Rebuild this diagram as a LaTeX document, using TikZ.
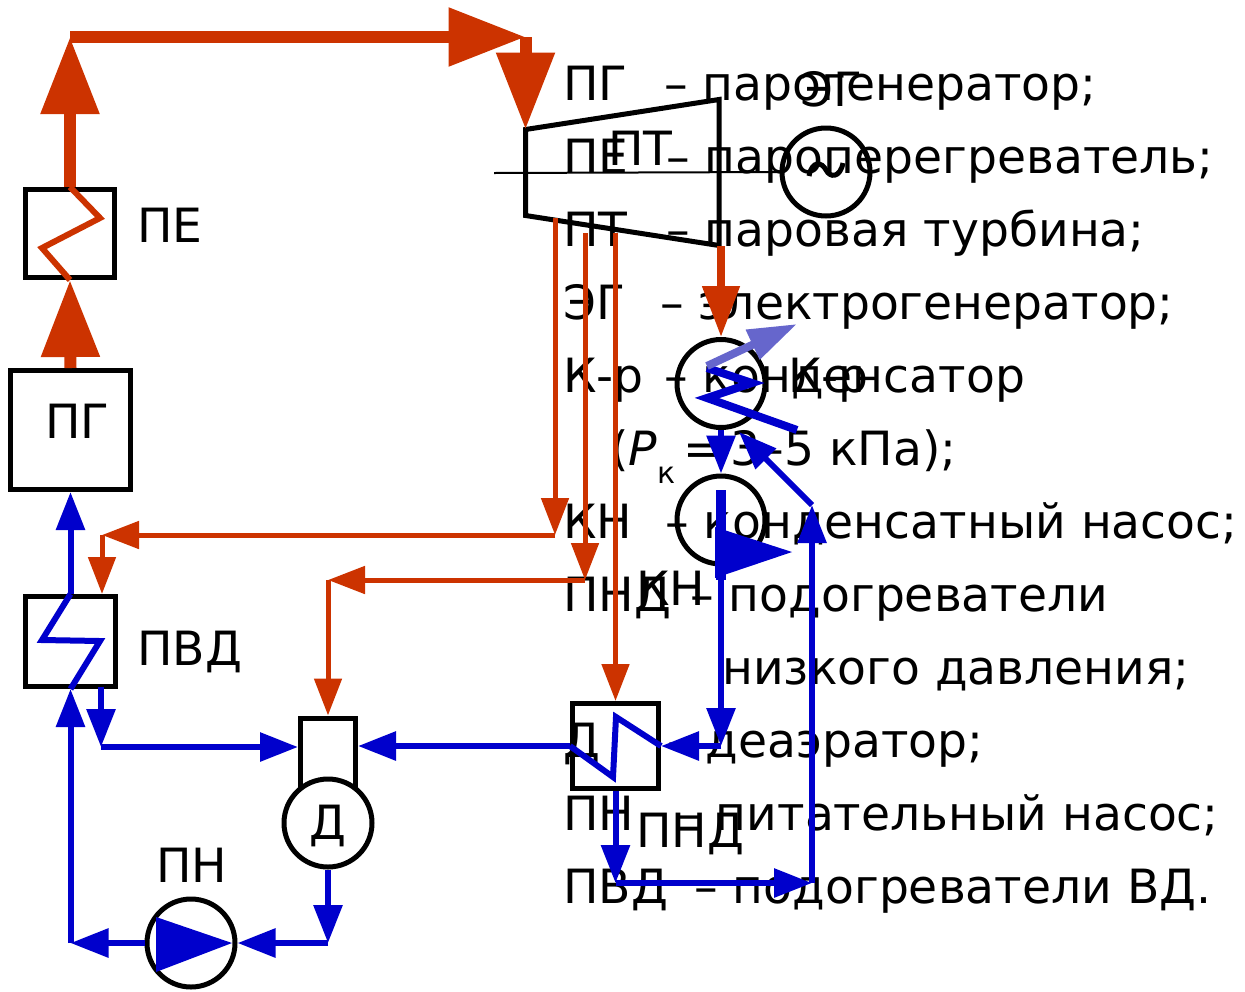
\documentclass[tikz,border=0pt]{standalone}
\usepackage{fontspec}
\setmainfont{DejaVu Sans}
\usetikzlibrary{arrows.meta,calc}

\definecolor{steamred}{RGB}{204,51,0}
\definecolor{waterblue}{RGB}{0,0,204}
\definecolor{airblue}{RGB}{102,102,204}

\tikzset{
  unit/.style={draw, line width=2.5pt, inner sep=0pt},
  box/.style 2 args={unit, rectangle, minimum width=#1, minimum height=#2},
  ring/.style={unit, circle, minimum size=44pt},
  lbl/.style={anchor=base west, inner sep=0pt, font=\fontsize{23.6}{24}\selectfont},
  steam/.style={steamred, line width=6pt, -{Triangle[length=38.5pt,width=28pt]}},
  bleed/.style={steamred, line width=2.5pt, -{Triangle[length=18.5pt,width=13.5pt]}},
  exhaust/.style={steamred, line width=4pt, -{Triangle[length=25.5pt,width=18pt]}},
  water/.style={waterblue, line width=3pt, -{Triangle[length=19pt,width=14pt]}},
  coil/.style={line width=3pt, line join=miter},
}

\begin{document}
\begin{tikzpicture}[x=0.5pt, y=-0.5pt]
	\useasboundingbox (0,0) rectangle (1245,991);
	
	% legend
	\node[lbl] (l1a) at (563,100) {ПГ};
	\node[lbl] (l1b) at (664,100) {– парогенератор;};
	\node[lbl] (l2a) at (563,173) {ПЕ};
	\node[lbl] (l2b) at (666,173) {– пароперегреватель;};
	\node[lbl] (l3a) at (563,246) {ПТ};
	\node[lbl] (l3b) at (666,246) {– паровая турбина;};
	\node[lbl] (l4a) at (563,319) {ЭГ};
	\node[lbl] (l4b) at (660,319) {– электрогенератор;};
	\node[lbl] (l5a) at (563,392) {К-р};
	\node[lbl] (l5b) at (664,392) {– конденсатор};
	\node[lbl] (l6) at (610,465) {(\textit{P}\raisebox{-9pt}{\fontsize{15}{15}\selectfont к}\,=\,3–5 кПа);};
	\node[lbl] (l7a) at (563,538) {КН};
	\node[lbl] (l7b) at (665,538) {– конденсатный насос;};
	\node[lbl] (l8a) at (563,611) {ПНД};
	\node[lbl] (l8b) at (690,611) {– подогреватели};
	\node[lbl] (l9) at (722,684) {низкого давления;};
	\node[lbl] (l10a) at (563,757) {Д};
	\node[lbl] (l10b) at (667,757) {– деаэратор;};
	\node[lbl] (l11a) at (563,830) {ПН};
	\node[lbl] (l11b) at (677,830) {– питательный насос;};
	\node[lbl] (l12a) at (563,903) {ПВД};
	\node[lbl] (l12b) at (694,903) {– подогреватели ВД.};
	
	% units
	\node[box={44.5pt}{44pt}] (pe) at (70,233.5) {};
	\node[box={60pt}{59.5pt}] (pg) at (70.5,430) {};
	\node[box={45pt}{45pt}] (pvd) at (70.5,641.5) {};
	\node[box={27.5pt}{36pt}] (dtank) at (328,754) {};
	\node[ring, fill=white] (dea) at (328,823) {};
	\node[ring] (pn) at (191,943) {};
	\node[ring] (kr) at (721,383.5) {};
	\node[ring] (kn) at (721,520) {};
	\node[ring] (eg) at (826,172) {};
	\node[box={43pt}{42.5pt}] (pnd) at (615.5,746) {};
	
	\node[lbl] (pel) at (137,242) {ПЕ};
	\node[lbl] (pgl) at (45,438) {ПГ};
	\node[lbl] (pvdl) at (137,665) {ПВД};
	\node[lbl] (pnl) at (156,882) {ПН};
	\node[lbl] (deal) at (309,839) {Д};
	\node[lbl] (ptl) at (608,165) {ПТ};
	\node[lbl] (egl) at (800,106) {ЭГ};
	\node[lbl] (krl) at (788,392) {К-р};
	\node[lbl] (knl) at (636,605) {КН};
	\node[lbl] (pndl) at (636,847) {ПНД};
	
	% turbine and generator
	\coordinate (tin) at (525.5,129.5);
	\coordinate (tout) at (721,246);
	\draw[line width=2.5pt, line join=miter] (tin) -- (719,99.5) -- (719,245.5) -- (525.5,215.5) -- cycle;
	\draw[line width=1pt] (494,173) -- (eg.west);
	\draw[line width=2.5pt] (809,176) .. controls (812,160) and (822,162) .. (826,170) .. controls (830,178) and (840,178) .. (843,163);
	
	% steam
	\coordinate (sl) at (70,37);
	\coordinate (sr) at (525.5,37);
	\draw[steam] (pg.north) -- (pe.south);
	\draw[steam] (pe.north) -- (sl);
	\draw[steam] (sl) -- (sr);
	\draw[steam] (sr) -- (tin);
	\draw[steamred, coil] (pe.north) -- (100,218) -- (42,248) -- (pe.south);
	
	% extractions
	\coordinate (t1) at (555,218);
	\coordinate (t2) at (585,233);
	\coordinate (t3) at (615.5,233);
	\coordinate (b1) at (555,535);
	\coordinate (b1e) at (102,535);
	\coordinate (b2) at (585,580);
	\coordinate (b2e) at (328,580);
	\draw[bleed] (t1) -- (b1);
	\draw[bleed] (b1) -- (b1e);
	\draw[bleed] (b1e) -- (b1e |- pvd.north);
	\draw[bleed] (t2) -- (b2);
	\draw[bleed] (b2) -- (b2e);
	\draw[bleed] (b2e) -- (dtank.north);
	\draw[bleed] (t3) -- (t3 |- pnd.north);
	\draw[exhaust] (tout) -- (kr.north);
	
	% condenser
	\draw[waterblue, line width=4pt] (707,368) -- (752,383) -- (707,398) -- (797,430);
	\draw[airblue, line width=4pt, -{Triangle[length=24.5pt,width=15.5pt]}] (707,366) -- (797,324);
	
	% condensate
	\coordinate (kn1) at (721,490);
	\coordinate (kn3) at (721,580);
	\coordinate (kn2) at (721,746);
	\draw[water] (kr.south) -- (kn.north);
	\draw[waterblue, line width=5pt] (kn1) -- (kn3);
	\fill[waterblue] (715,527) -- (792,552) -- (715,578) -- cycle;
	\draw[water] (kn1) -- (kn2);
	\draw[water] (kn2) -- (pnd.east);
	\draw[waterblue, coil] (pnd.west) -- (613,777) -- (616,717) -- (pnd.east);
	\draw[water] (pnd.west) -- (pnd.west -| dtank.east);
	
	\coordinate (w1) at (615.5,883);
	\coordinate (w2) at (812,883);
	\coordinate (w3) at (812,505);
	\coordinate (krin) at (739,432);
	\draw[water] (pnd.south) -- (w1);
	\draw[water] (w1) -- (w2);
	\draw[water] (w2) -- (w3);
	\draw[water] (w3) -- (krin);
	
	% feed water
	\coordinate (v1) at (101,686.5);
	\coordinate (v2) at (101,747);
	\coordinate (w4) at (328,943);
	\coordinate (w5) at (70.5,943);
	\draw[water] (v1) -- (v2);
	\draw[water] (v2) -- (v2 -| dtank.west);
	\draw[water] (dea.south) -- (w4);
	\draw[water] (w4) -- (pn.east);
	\fill[waterblue] (156,917) -- (232,943) -- (156,972) -- cycle;
	\draw[water] (pn.west) -- (w5);
	\draw[water] (w5) -- (pvd.south);
	\draw[waterblue, coil] (pvd.north) -- (42,640) -- (100,641) -- (pvd.south);
	\draw[water] (pvd.north) -- (pg.south);
\end{tikzpicture}
\end{document}
